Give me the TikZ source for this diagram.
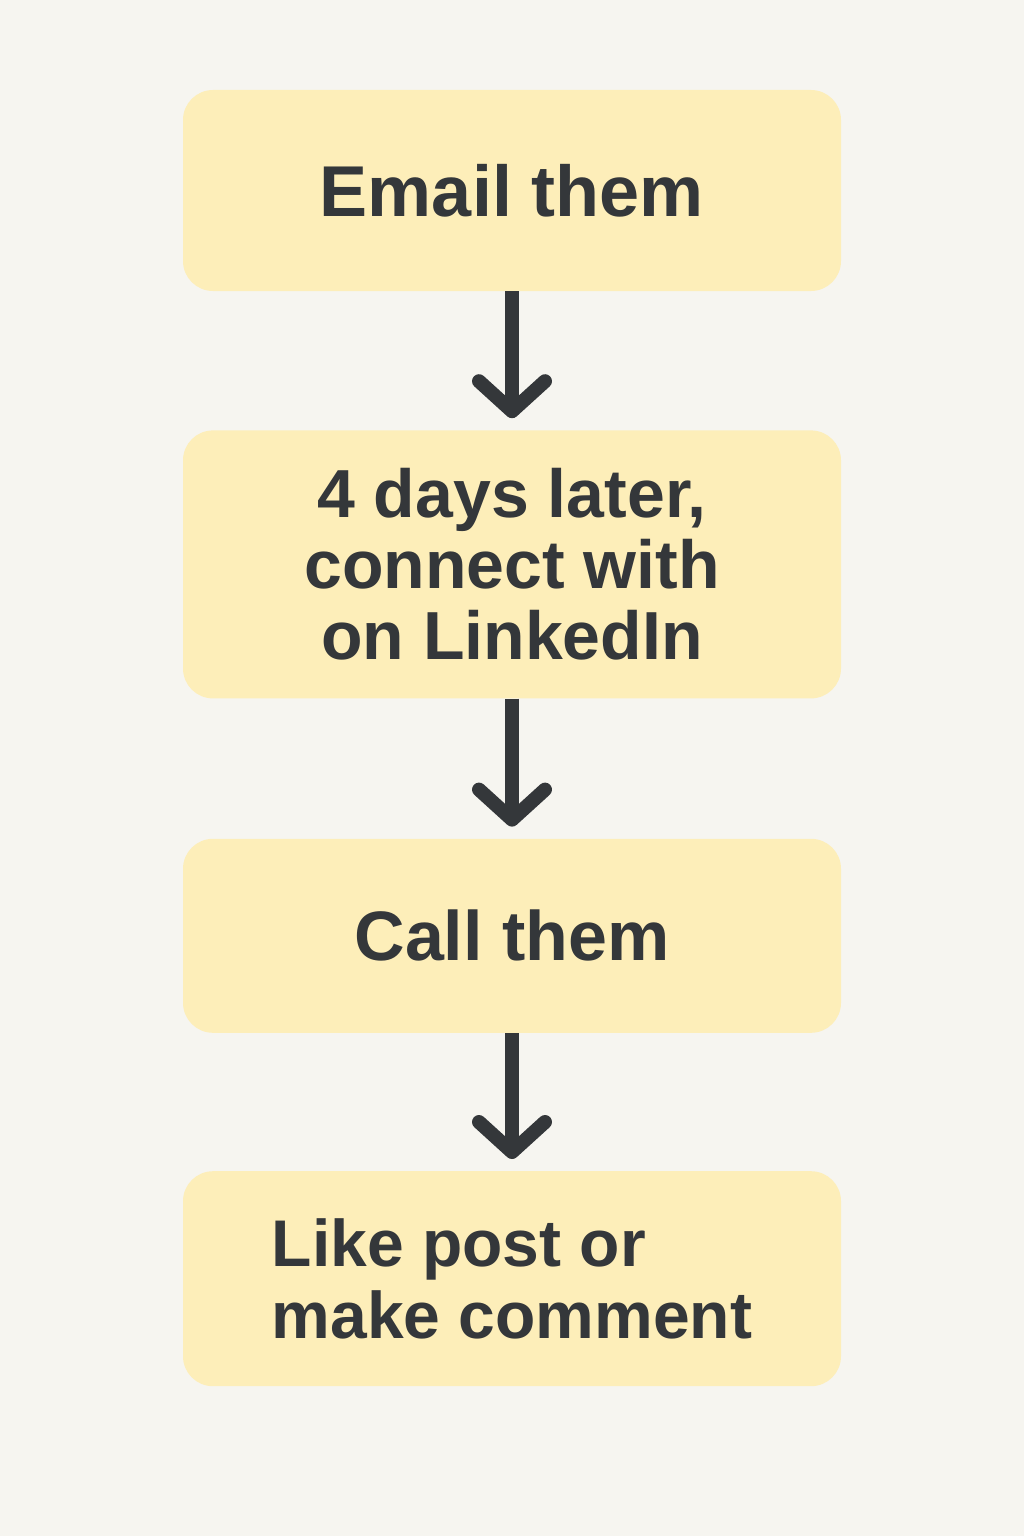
\documentclass[tikz,border=0pt]{standalone}
\usepackage{fontspec}
\setmainfont{Liberation Sans}
\usetikzlibrary{arrows.meta, positioning}
\definecolor{bgcol}{RGB}{246,245,240}
\definecolor{boxcol}{RGB}{253,238,185}
\definecolor{inkcol}{RGB}{52,55,58}

\begin{document}
\begin{tikzpicture}[x=1pt, y=-1pt,
    stepbox/.style={fill=boxcol, rounded corners=30pt, minimum width=658pt, inner sep=0pt, align=center, text=inkcol},
    flow/.style={draw=inkcol, line width=14pt, -{Straight Barb[length=30pt, width=66pt, round]}, shorten >=12pt},
    ]

    % Background
    \fill[bgcol] (0,0) rectangle (1024,1536);
    \useasboundingbox (0,0) rectangle (1024,1536);

    % Steps
    \node[stepbox, minimum height=201pt, font=\bfseries\fontsize{72}{74}\selectfont] at (512,190.5) (email) {Email them};
    \node[stepbox, minimum height=268pt, below=139pt of email, font=\bfseries\fontsize{68}{71}\selectfont] (linkedin) {4 days later,\\connect with\\on LinkedIn};
    \node[stepbox, minimum height=194pt, below=140pt of linkedin, font=\bfseries\fontsize{70}{72}\selectfont] (call) {Call them};
    \node[stepbox, minimum height=215pt, below=138pt of call, align=left, font=\bfseries\fontsize{66}{72}\selectfont] (comment) {Like post or\\make comment};

    % Arrows between steps
    \draw[flow] (email) -- (linkedin);
    \draw[flow] (linkedin) -- (call);
    \draw[flow] (call) -- (comment);
\end{tikzpicture}
\end{document}
